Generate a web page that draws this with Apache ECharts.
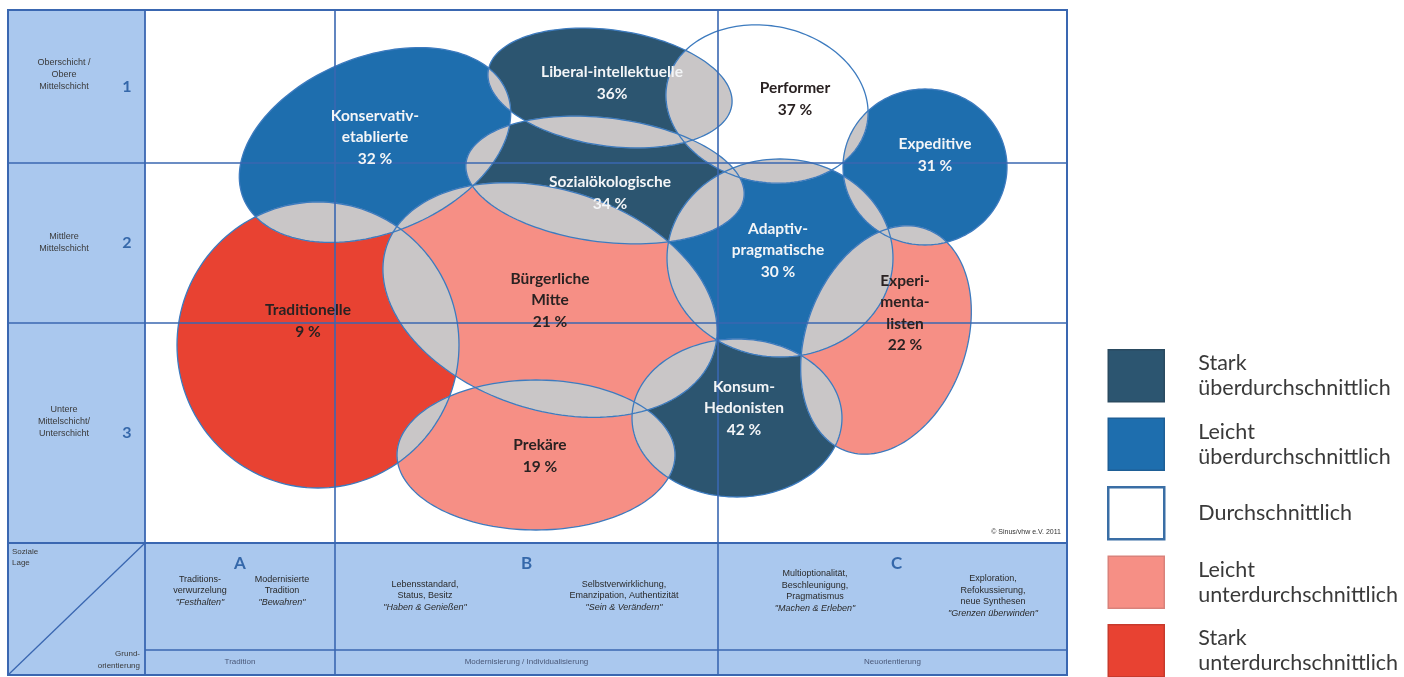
<!DOCTYPE html>
<html>
<head>
<meta charset="utf-8">
<script src="https://cdn.jsdelivr.net/npm/echarts@6/dist/echarts.min.js"></script>
<style>html,body{margin:0;padding:0;background:#fff}#c{width:1404px;height:677px}</style>
</head>
<body>
<div id="c"></div>
<script>
// ---------------- DATA ----------------
const categories = ['Stark\nüberdurchschnittlich', 'Leicht\nüberdurchschnittlich', 'Durchschnittlich', 'Leicht\nunterdurchschnittlich', 'Stark\nunterdurchschnittlich'];
const milieuNames = ['Konservativ-\netablierte', 'Liberal-intellektuelle', 'Performer', 'Expeditive', 'Sozialökologische', 'Adaptiv-\npragmatische', 'Bürgerliche\nMitte', 'Traditionelle', 'Experi-\nmenta-\nlisten', 'Konsum-\nHedonisten', 'Prekäre'];
const milieuShares = [32, 36, 37, 31, 34, 30, 21, 9, 22, 42, 19];
const milieuCategory = [1, 0, 2, 1, 0, 1, 3, 4, 3, 0, 3];
// blob geometry on the milieu map (map units: x = orientation, y = social class)
const blobX = [230, 465, 622, 780, 460, 635, 405, 173, 741, 592, 391];
const blobY = [398, 455, 439, 376, 363, 285, 243, 198, 203, 125, 88];
const blobRX = [142, 123, 102, 82, 140, 113, 172, 141, 80, 105, 139];
const blobRY = [88, 58, 78, 78, 62, 99, 110, 143, 118, 79, 75];
const blobTilt = [22, -8, -12, 0, -7, 0, -18, 0, -20, 0, 0];
const labelX = [230, 467, 650, 790, 465, 633, 405, 163, 760, 599, 395];
const labelY = [406, 460, 444, 388, 350, 293, 243, 222, 230, 135, 87];
// axes / bands
const classLabels = ['Oberschicht /\nObere\nMittelschicht', 'Mittlere\nMittelschicht', 'Untere\nMittelschicht/\nUnterschicht'];
const classNumbers = ['1', '2', '3'];
const orientGroups = ['A', 'B', 'C'];
const orientNames = ['Tradition', 'Modernisierung / Individualisierung', 'Neuorientierung'];
const orientSub = [
  ['Traditions-', 'verwurzelung', '"Festhalten"'],
  ['Modernisierte', 'Tradition', '"Bewahren"'],
  ['Lebensstandard,', 'Status, Besitz', '"Haben & Genießen"'],
  ['Selbstverwirklichung,', 'Emanzipation, Authentizität', '"Sein & Verändern"'],
  ['Multioptionalität,', 'Beschleunigung,', 'Pragmatismus', '"Machen & Erleben"'],
  ['Exploration,', 'Refokussierung,', 'neue Synthesen', '"Grenzen überwinden"']
];
const columnBounds = [190, 573];   // A|B, B|C on the map x scale
const rowBounds = [220, 380];      // 3|2, 2|1 on the map y scale

// ---------------- STYLE / LAYOUT ----------------
const X_MAX = 922, Y_MAX = 533;
const G = { left: 145, top: 10, w: 922, h: 533 };
const FRAME = { l: 8, t: 10, r: 1067, b: 675 };
const catColors = ['#2C5570', '#1E6EAE', '#FFFFFF', '#F68F85', '#E84232'];
const catText = ['#F3F5F7', '#F3F5F7', '#2A2222', '#2A2222', '#2A2222'];
const GREY = '#C9C6C7';
const EDGE = '#3D7BBF';
const LINE = '#3A67B1';
const BAND = '#AAC8EE';

function ellipsePts(api, m, n) {
  const c = api.coord([blobX[m], blobY[m]]);
  const s = api.size([blobRX[m], blobRY[m]]);
  const th = -blobTilt[m] * Math.PI / 180;
  const ct = Math.cos(th), st = Math.sin(th);
  const pts = [];
  for (let k = 0; k < n; k++) {
    const t = 2 * Math.PI * k / n;
    const ex = s[0] * Math.cos(t), ey = s[1] * Math.sin(t);
    pts.push([c[0] + ex * ct - ey * st, c[1] + ex * st + ey * ct]);
  }
  return pts;
}
function clipConvex(subject, clipPoly) {
  let area = 0;
  for (let i = 0; i < clipPoly.length; i++) {
    const a = clipPoly[i], b = clipPoly[(i + 1) % clipPoly.length];
    area += a[0] * b[1] - b[0] * a[1];
  }
  const sign = area > 0 ? 1 : -1;
  let output = subject;
  for (let i = 0; i < clipPoly.length && output.length; i++) {
    const a = clipPoly[i], b = clipPoly[(i + 1) % clipPoly.length];
    const side = p => sign * ((b[0] - a[0]) * (p[1] - a[1]) - (b[1] - a[1]) * (p[0] - a[0]));
    const input = output; output = [];
    let S = input[input.length - 1];
    for (const E of input) {
      const dE = side(E), dS = side(S);
      if (dE >= 0) {
        if (dS < 0) { const t = dS / (dS - dE); output.push([S[0] + t * (E[0] - S[0]), S[1] + t * (E[1] - S[1])]); }
        output.push(E);
      } else if (dS >= 0) {
        const t = dS / (dS - dE); output.push([S[0] + t * (E[0] - S[0]), S[1] + t * (E[1] - S[1])]);
      }
      S = E;
    }
  }
  return output;
}

const pairs = [];
for (let i = 0; i < milieuNames.length; i++) for (let j = i + 1; j < milieuNames.length; j++) pairs.push([i, j]);

const fillSeries = categories.map((cat, ci) => ({
  type: 'custom', name: cat, coordinateSystem: 'cartesian2d', z: 2,
  itemStyle: { color: catColors[ci] },
  data: milieuCategory.map((c, i) => c === ci ? [i, i] : null).filter(Boolean),
  renderItem: (params, api) => ({
    type: 'polygon', shape: { points: ellipsePts(api, api.value(0), 160) },
    style: { fill: catColors[ci], stroke: null }
  })
}));

const overlapSeries = {
  type: 'custom', name: 'overlap', coordinateSystem: 'cartesian2d', z: 3,
  data: pairs,
  renderItem: (params, api) => {
    const a = api.value(0), b = api.value(1);
    const poly = clipConvex(ellipsePts(api, a, 160), ellipsePts(api, b, 160));
    if (poly.length < 3) return { type: 'group', children: [] };
    return { type: 'polygon', shape: { points: poly }, style: { fill: GREY, stroke: GREY, lineWidth: 0.5 } };
  }
};

const outlineSeries = {
  type: 'custom', name: 'outline', coordinateSystem: 'cartesian2d', z: 4,
  data: milieuNames.map((n, i) => [i, i]),
  renderItem: (params, api) => ({
    type: 'polygon', shape: { points: ellipsePts(api, api.value(0), 160) },
    style: { fill: null, stroke: EDGE, lineWidth: 1.3 }
  }),
  markLine: {
    silent: true, symbol: ['none', 'none'], label: { show: false }, animation: false,
    lineStyle: { color: LINE, width: 1.6, type: 'solid' },
    data: columnBounds.map(v => ({ xAxis: v })).concat(rowBounds.map(v => ({ yAxis: v })))
  }
};

const labelSeries = {
  type: 'custom', name: 'labels', coordinateSystem: 'cartesian2d', z: 6,
  data: milieuNames.map((n, i) => [i, i]),
  renderItem: (params, api) => {
    const m = api.value(0);
    const p = api.coord([labelX[m], labelY[m]]);
    const pct = m === 1 ? milieuShares[m] + '%' : milieuShares[m] + ' %';
    return {
      type: 'text', x: p[0], y: p[1],
      style: {
        text: milieuNames[m] + '\n' + pct, fill: catText[milieuCategory[m]],
        font: 'bold 15.5px Lato', fontWeight: 'bold', fontSize: 15.5, fontFamily: 'Lato',
        align: 'center', textAlign: 'center', verticalAlign: 'middle', textVerticalAlign: 'middle', lineHeight: 21.5
      }
    };
  }
};

// ---------- frame, side column and bottom band ----------
const graphic = [];
function rect(x, y, w, h, style, z) { graphic.push({ type: 'rect', shape: { x, y, width: w, height: h }, style, z: z || 0, silent: true }); }
function line(x1, y1, x2, y2, w, z) { graphic.push({ type: 'line', shape: { x1, y1, x2, y2 }, style: { stroke: LINE, lineWidth: w || 1.6 }, z: z || 10, silent: true }); }
function text(x, y, t, st) {
  graphic.push({ type: 'text', x, y, z: 20, silent: true,
    style: Object.assign({ text: t, fill: '#2E2E2E', font: '9px "Liberation Sans"', fontSize: 9, fontFamily: 'Liberation Sans',
      align: 'center', textAlign: 'center', verticalAlign: 'middle', textVerticalAlign: 'middle', lineHeight: 12 }, st || {}) });
}
const plotBottom = G.top + G.h;
rect(FRAME.l, FRAME.t, G.left - FRAME.l, G.h, { fill: BAND }, 0);
rect(FRAME.l, plotBottom, FRAME.r - FRAME.l, FRAME.b - plotBottom, { fill: BAND }, 0);
rect(FRAME.l, FRAME.t, FRAME.r - FRAME.l, FRAME.b - FRAME.t, { fill: null, stroke: LINE, lineWidth: 2 }, 10);
line(G.left, FRAME.t, G.left, FRAME.b, 1.8);
line(FRAME.l, plotBottom, FRAME.r, plotBottom, 2.2);
const xPix = v => G.left + v / X_MAX * G.w;
const yPix = v => G.top + (1 - v / Y_MAX) * G.h;
rowBounds.forEach(v => line(FRAME.l, yPix(v), G.left, yPix(v), 1.6));
columnBounds.forEach(v => line(xPix(v), plotBottom, xPix(v), FRAME.b, 1.6));
const bandRowY = 650;
line(G.left, bandRowY, FRAME.r, bandRowY, 1.6);
line(FRAME.l, FRAME.b, G.left, plotBottom, 1.3);

// social class labels
const rowEdges = [Y_MAX].concat(rowBounds.slice().reverse()).concat([0]);
classLabels.forEach((lab, i) => {
  const yc = (yPix(rowEdges[i]) + yPix(rowEdges[i + 1])) / 2;
  const nLines = lab.split('\n').length;
  text(64, yc - (nLines - 2) * 11.5, lab, { fill: '#3A3A3A', fontSize: 9 });
  text(127, yc, classNumbers[i], { fill: '#3568AA', font: 'bold 16px Lato', fontSize: 16, fontWeight: 'bold', fontFamily: 'Lato' });
});
text(12, 557, 'Soziale\nLage', { align: 'left', textAlign: 'left', fill: '#3A3A3A', fontSize: 8, font: '8px "Liberation Sans"', lineHeight: 11 });
text(140, 660, 'Grund-\norientierung', { align: 'right', textAlign: 'right', fill: '#3A3A3A', fontSize: 8, font: '8px "Liberation Sans"', lineHeight: 12 });

// orientation groups
const colEdges = [0].concat(columnBounds).concat([X_MAX]);
const subX = [200, 282, 425, 624, 815, 993];
const subY = [591, 591, 596, 596, 591, 596];
orientGroups.forEach((g, i) => {
  const xc = (xPix(colEdges[i]) + xPix(colEdges[i + 1])) / 2;
  text(xc + (i === 2 ? 4 : 0), 564, g, { fill: '#3568AA', font: 'bold 17px Lato', fontSize: 17, fontWeight: 'bold', fontFamily: 'Lato' });
  text(xc, 662, orientNames[i], { fill: '#4A5878', fontSize: 8, font: '8px "Liberation Sans"' });
});
orientSub.forEach((lines, k) => {
  const body = lines.slice(0, -1).join('\n') + '\n{i|' + lines[lines.length - 1] + '}';
  text(subX[k], subY[k], body, {
    fill: '#2A2A2A', lineHeight: 11.5,
    rich: { i: { fontStyle: 'italic', fontSize: 9, fontFamily: 'Liberation Sans', fill: '#2A2A2A', lineHeight: 11.5 } }
  });
});
text(1061, 532, '© Sinus/vhw e.V. 2011', { align: 'right', textAlign: 'right', fontSize: 7, font: '7px "Liberation Sans"', fill: '#333' });

const legendBorders = ['#2A4A60', '#1E5F96', '#3A6EA5', '#D9827B', '#C73A2C'];

const option = {
  animation: false,
  backgroundColor: '#FFFFFF',
  grid: { left: G.left, top: G.top, width: G.w, height: G.h, containLabel: false },
  xAxis: { type: 'value', min: 0, max: X_MAX, show: false },
  yAxis: { type: 'value', min: 0, max: Y_MAX, show: false },
  legend: {
    orient: 'vertical', left: 1107, top: 349, height: 420, padding: 0,
    itemWidth: 56, itemHeight: 52, itemGap: 15, icon: 'rect', selectedMode: false,
    textStyle: { fontSize: 21.5, fontFamily: 'Lato', color: '#3A3A3A', lineHeight: 25, padding: [0, 0, 0, 29] },
    data: categories.map((c, i) => ({ name: c, itemStyle: { color: catColors[i], borderColor: legendBorders[i], borderWidth: i === 2 ? 2.5 : 1.5 } }))
  },
  graphic: { elements: graphic },
  series: fillSeries.concat([overlapSeries, outlineSeries, labelSeries])
};
const chart = echarts.init(document.getElementById('c'), null, { renderer: 'canvas' });
chart.setOption(option);
</script>
</body>
</html>
